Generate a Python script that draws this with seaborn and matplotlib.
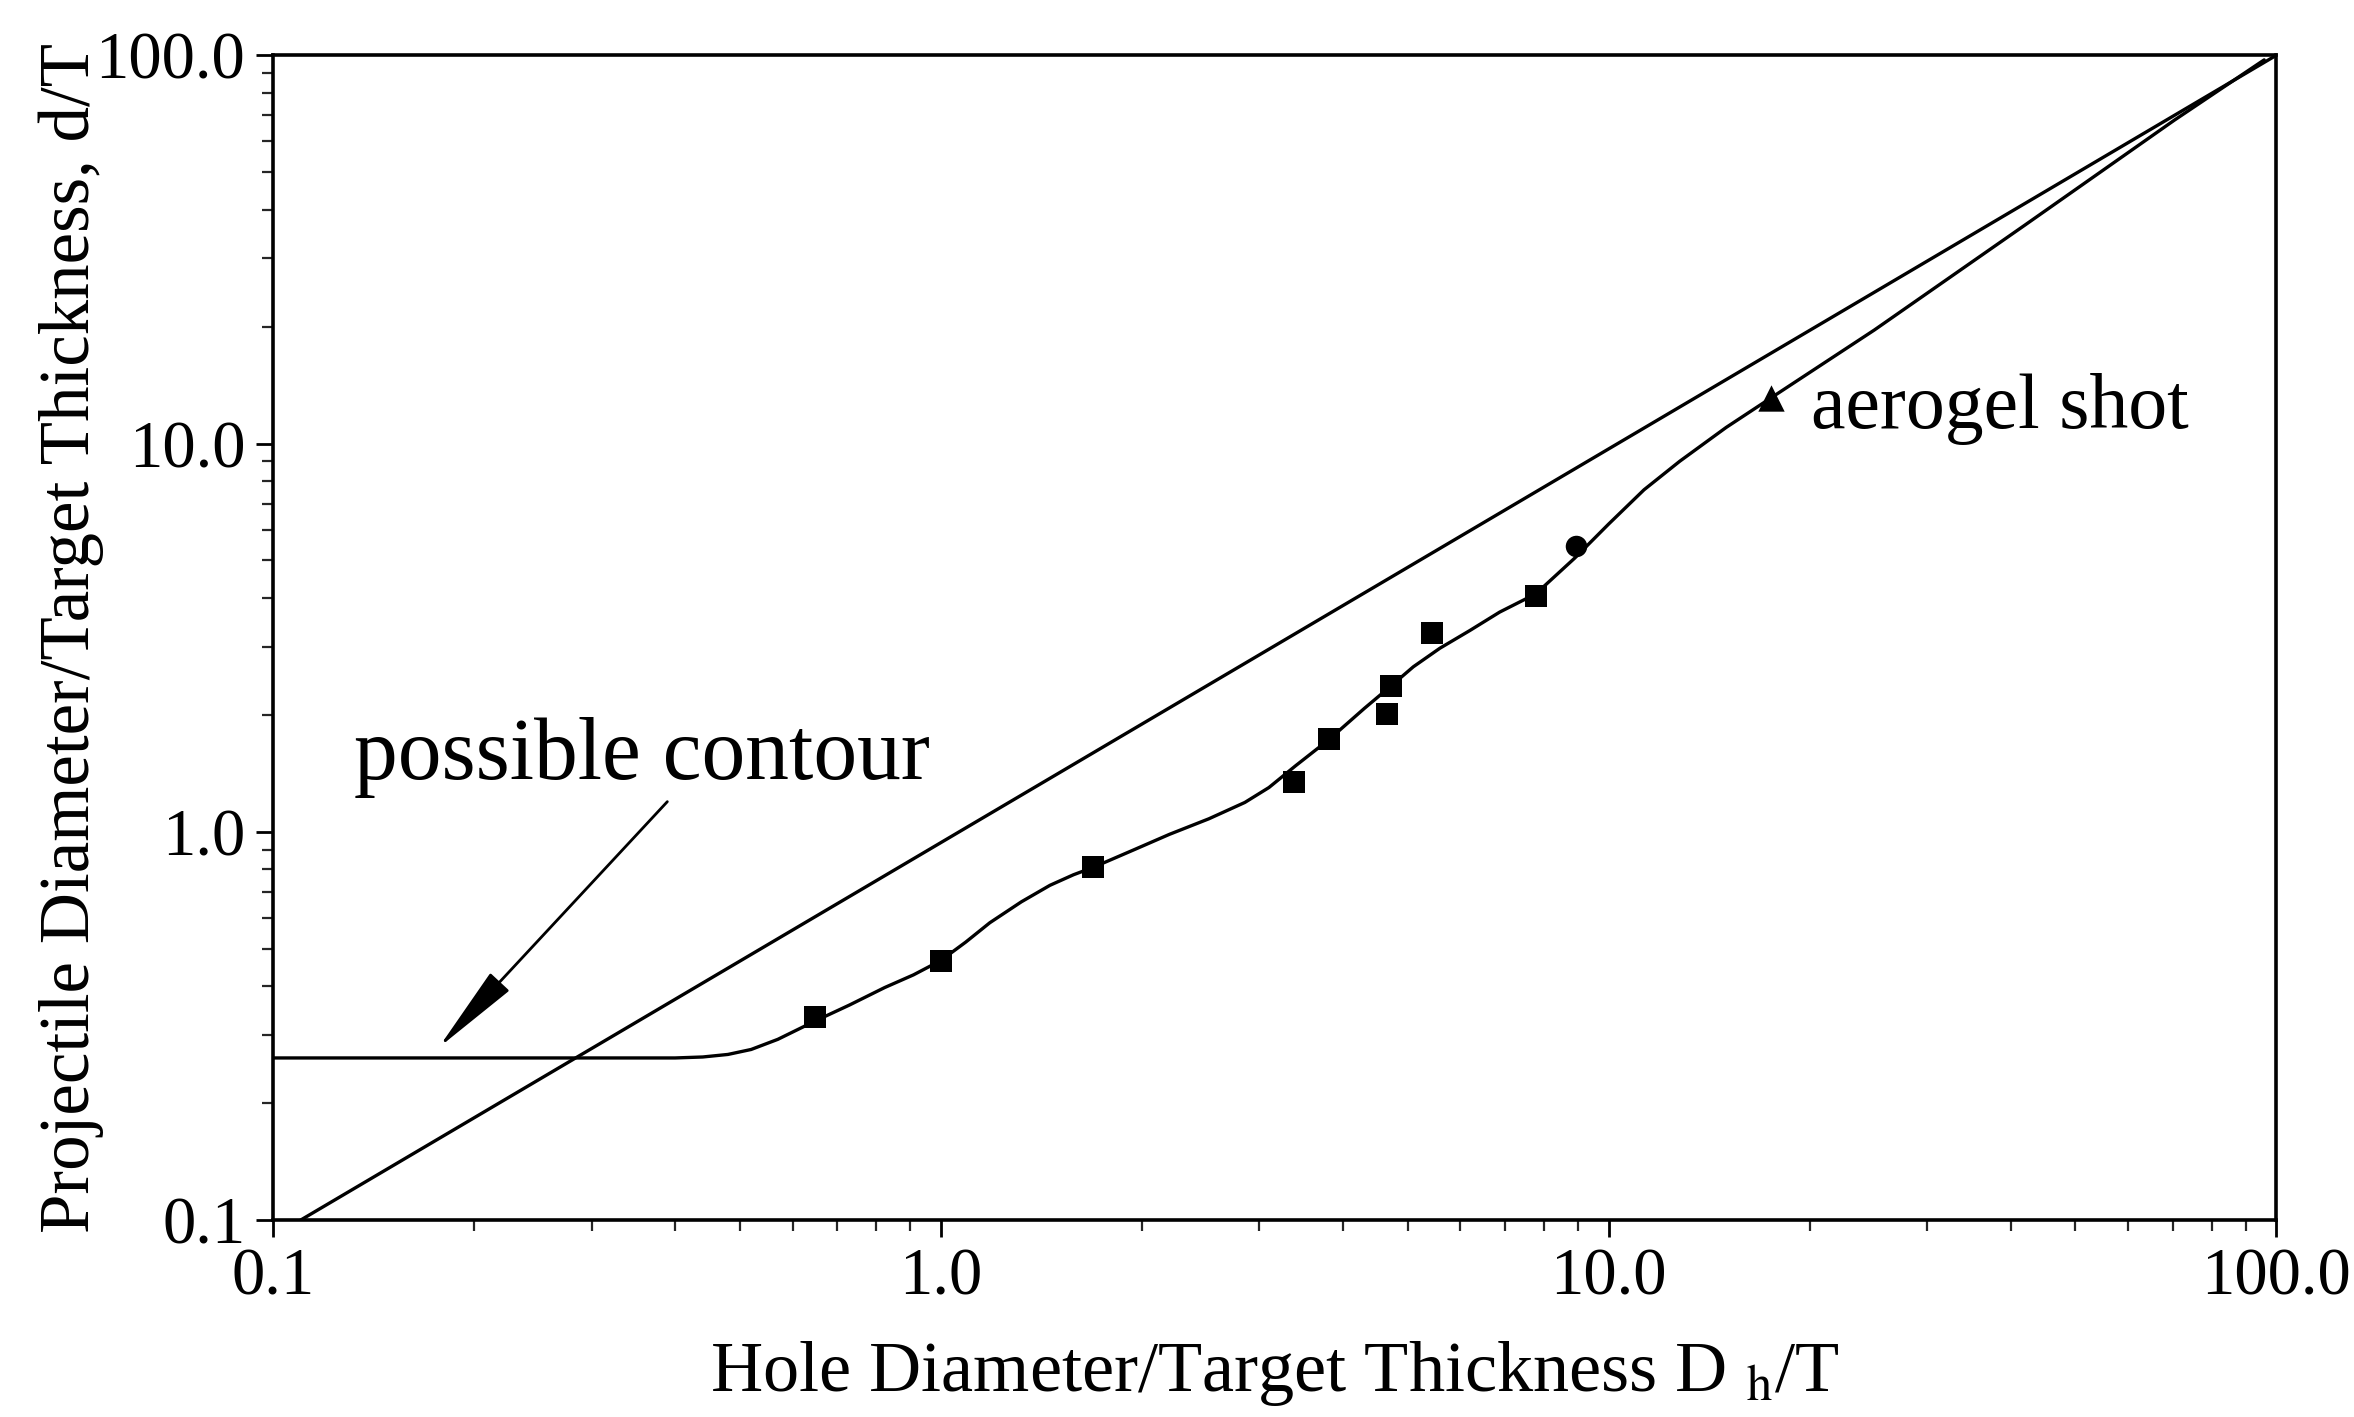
import matplotlib
matplotlib.use("Agg")
import matplotlib.pyplot as plt
import numpy as np
import pandas as pd
import seaborn as sns
from matplotlib.ticker import FixedLocator, FixedFormatter, LogLocator, NullFormatter

# measured shots (square markers), last one drawn as a dot
shot_x = [0.647, 1.0, 1.69, 3.38, 3.81, 4.66, 4.73, 5.44, 7.78]
shot_y = [0.333, 0.466, 0.81, 1.345, 1.73, 2.01, 2.38, 3.25, 4.05]
dot_x = [8.94]
dot_y = [5.44]
aerogel_x = [17.5]
aerogel_y = [13.1]

# possible contour
contour_x = [0.1, 0.3, 0.40, 0.44, 0.48, 0.52, 0.57, 0.647, 0.73, 0.824, 0.91,
             1.0, 1.09, 1.184, 1.32, 1.457, 1.58, 1.692, 1.95, 2.20, 2.52,
             2.853, 3.1, 3.4, 3.81, 4.31, 4.73, 5.1, 5.59, 6.2, 6.87, 7.78,
             8.9, 10.0, 11.3, 12.78, 15.0, 17.5, 25.0, 42.0, 70.4, 95.9]
contour_y = [0.2615, 0.2615, 0.2615, 0.263, 0.267, 0.275, 0.292, 0.325, 0.358,
             0.397, 0.428, 0.466, 0.52, 0.583, 0.66, 0.728, 0.775, 0.81, 0.90,
             0.985, 1.08, 1.19, 1.30, 1.48, 1.726, 2.08, 2.38, 2.66, 2.97,
             3.3, 3.68, 4.1, 5.07, 6.2, 7.6, 9.0, 11.0, 13.1, 19.6, 36.5,
             68.1, 97.3]

# d/T = Dh/T reference line
diag_x = [0.11, 100.0]
diag_y = [0.1, 100.0]

tick_vals = [0.1, 1.0, 10.0, 100.0]
tick_labels = ["0.1", "1.0", "10.0", "100.0"]

sns.set_theme(style="ticks")
plt.rcParams["font.family"] = ["Liberation Serif", "DejaVu Serif"]
plt.rcParams["mathtext.fontset"] = "stix"
plt.rcParams["text.color"] = "black"
plt.rcParams["axes.labelcolor"] = "black"

fig = plt.figure(figsize=(23.54, 14.17), dpi=100)
ax = fig.add_axes([0.116, 0.139, 0.851, 0.822])

line_kw = dict(color="black", linewidth=2.4, sort=False, legend=False, ax=ax)
sns.lineplot(x=diag_x, y=diag_y, **line_kw)
sns.lineplot(x=contour_x, y=contour_y, **line_kw)

sns.scatterplot(x=shot_x, y=shot_y, marker="s", s=260, color="black",
                edgecolor="black", linewidth=0, ax=ax, legend=False)
sns.scatterplot(x=dot_x, y=dot_y, marker="o", s=240, color="black",
                edgecolor="black", linewidth=0, ax=ax, legend=False)
sns.scatterplot(x=aerogel_x, y=aerogel_y, marker="^", s=360, color="black",
                edgecolor="black", linewidth=0, ax=ax, legend=False)

ax.set_xscale("log")
ax.set_yscale("log")
ax.set_xlim(0.1, 100)
ax.set_ylim(0.1, 100)

for axis in (ax.xaxis, ax.yaxis):
    axis.set_major_locator(FixedLocator(tick_vals))
    axis.set_major_formatter(FixedFormatter(tick_labels))
    axis.set_minor_locator(LogLocator(base=10, subs=np.arange(2, 10)))
    axis.set_minor_formatter(NullFormatter())

ax.tick_params(which="major", direction="out", length=12, width=2,
               labelsize=48, colors="black", pad=8)
ax.tick_params(which="minor", direction="out", length=8, width=1.6)
ax.tick_params(which="both", top=False, right=False)

for sp in ax.spines.values():
    sp.set_linewidth(2.6)
    sp.set_color("black")
    sp.set_visible(True)

ax.set_xlabel(r"Hole Diameter/Target Thickness D $_{\mathrm{h}}$/T", fontsize=52,
              labelpad=22)
ax.set_ylabel("Projectile Diameter/Target Thickness, d/T", fontsize=51,
              labelpad=-6)

ax.annotate("possible contour", xy=(0.177, 0.278), xytext=(0.132, 1.55),
            fontsize=63, ha="left", va="center",
            arrowprops=dict(arrowstyle="-|>,head_length=0.9,head_width=0.13",
                            color="black", lw=2, shrinkA=0, shrinkB=0,
                            relpos=(0.55, 0.0)))
ax.text(20.1, 12.3, "aerogel shot", fontsize=56, ha="left", va="center")

fig.savefig("out.png", dpi=100, facecolor="white")
